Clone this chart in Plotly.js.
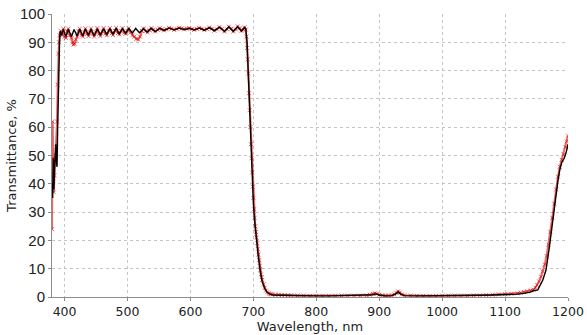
<!DOCTYPE html>
<html>
<head>
<meta charset="utf-8">
<script src="https://cdn.plot.ly/plotly-3.0.1.min.js"></script>
<style>html,body{margin:0;padding:0;background:#fff;}#chart{width:587px;height:335px;}</style>
</head>
<body>
<div id="chart"></div>
<script>
// Measured spectrum (black line)
const measWl = [380,381,382,383,384,385,386,387,388,389,390,391,392,393,395,398,402,406,411,415,420,424,429,433,438,442,447,452,457,462,467,472,477,482,487,492,497,502,508,513,519,525,531,537,544,551,558,566,574,582,590,598,606,614,622,630,638,646,654,661,668,675,681,686,688,690,692,694,696,698,700,702,705,708,711,714,718,722,726,732,745,760,780,800,820,840,860,880,890,895,900,910,920,926,930,934,940,960,980,1000,1020,1040,1060,1080,1100,1120,1130,1140,1145,1152,1160,1165,1170,1175,1178,1181,1184,1187,1190,1194,1197,1200];
const measT = [40,35,49,38,45,50,54,48,46,60,75,85,90,94,92.5,94.5,92,94.5,92,94.5,92.2,94.6,92.3,94.7,92.5,94.6,92.3,94.7,92.6,94.8,92.8,94.8,92.9,94.9,93.0,94.8,93.2,94.8,93.3,94.9,93.4,94.8,93.6,94.9,93.8,94.9,94.2,95.0,94.4,95.0,94.5,94.9,94.4,95.0,94.3,95.1,94.1,95.3,93.9,95.4,93.9,95.5,94.0,95.3,94.8,90,78,65,52,41,33,27,20,14,9,5.5,3,1.6,1.0,0.7,0.6,0.5,0.4,0.4,0.4,0.5,0.5,0.5,0.8,1.1,0.7,0.4,0.5,1.0,1.7,1.0,0.5,0.4,0.4,0.5,0.5,0.5,0.6,0.7,0.8,1.0,1.3,1.7,2.2,2.5,6,9.5,17,26,32,37,41,45,47.5,49,51,54];

// Calculated spectrum (red crosses)
const calcWl = [380,381,382,383,384,385,386,387,388,389,390,391,392,394,396,398,400,402,404,406,408,411,413,414,416,418,420,422,424,427,429,431,433,436,438,440,442,445,447,450,452,455,457,460,462,465,467,470,472,475,477,480,482,485,487,490,492,495,497,500,502,505,508,511,514,517,520,523,526,529,532,535,538,541,544,548,551,555,558,562,566,570,574,578,582,586,590,594,598,602,606,610,614,618,622,626,630,634,638,642,646,650,654,658,661,665,668,672,675,678,681,684,686,688,689,690,691,692,693,694,695,696,697,698,699,700,701,702,703,704,705,706,707,708,709,710,711,712,713,714,716,718,720,722,724,726,728,730,735,740,745,750,755,760,770,780,790,800,810,820,830,840,850,860,870,880,885,890,893,896,900,905,910,915,920,924,927,930,933,936,940,950,960,970,980,990,1000,1010,1020,1030,1040,1050,1060,1070,1080,1090,1100,1110,1120,1125,1130,1135,1140,1145,1148,1151,1154,1157,1160,1163,1166,1169,1172,1175,1178,1181,1184,1187,1190,1193,1196,1198,1200];
const calcT = [24,62,49,37,43,48,50,53,62,75,86,90,92.5,94,92.5,94.8,92,91.5,94,94.8,92.5,91.5,90,89.2,89.5,91,92,94,94.8,92.5,92,93.5,94.9,93,92.2,93.5,94.9,93,92,93.5,95,93,92.2,93.8,95,93,92.5,94,95,93.2,92.6,94,95.1,93.3,92.8,94,95,93.4,93,94,95,93.5,92.5,92,91.2,91,92,94,94.9,94,93.5,94.2,95,94.5,93.8,94.4,95,94.6,94.2,94.6,95.1,94.8,94.4,94.7,95.1,94.9,94.6,94.8,95,94.7,94.4,94.7,95.1,94.8,94.3,94.7,95.2,94.8,94.1,94.6,95.4,94.8,93.8,94.6,95.5,94.8,93.8,94.6,95.6,95,94,94.5,95.3,94.5,92,88,84,79,72,66,60,54,49,44,39,35,31,28,25,23,21,19,17,15,13,11,9.5,8,7,6,4.5,3.2,2.3,1.7,1.3,1.1,1.0,0.9,0.8,0.8,0.7,0.7,0.6,0.6,0.5,0.5,0.4,0.4,0.4,0.4,0.5,0.5,0.5,0.5,0.5,0.6,0.8,1.1,1.3,1.1,0.8,0.6,0.5,0.5,0.6,0.9,1.5,2.0,1.6,0.9,0.6,0.5,0.4,0.4,0.4,0.4,0.5,0.5,0.5,0.5,0.5,0.6,0.6,0.7,0.8,0.9,1.0,1.1,1.3,1.5,1.8,2.0,2.3,2.6,3.3,4.2,5.5,7.2,9,11.5,14.5,18.5,23,28,33,38,42.5,46,48.5,50.5,53,55,57];

const xTitle = "Wavelength, nm";
const yTitle = "Transmittance, %";

const traces = [
  {
    x: calcWl, y: calcT, type: "scatter", mode: "lines+markers",
    line: {color: "rgba(225,0,0,0.6)", width: 2},
    marker: {symbol: "x-thin-open", size: 4, line: {color: "rgba(240,40,40,0.5)", width: 1}},
    hoverinfo: "skip", showlegend: false
  },
  {
    x: measWl, y: measT, type: "scatter", mode: "lines",
    line: {color: "#000", width: 1.4},
    hoverinfo: "skip", showlegend: false
  }
];

const layout = {
  width: 587, height: 335,
  margin: {l: 52, r: 19, t: 14, b: 38},
  paper_bgcolor: "#fff", plot_bgcolor: "#fff",
  showlegend: false,
  xaxis: {
    range: [380, 1200], tick0: 0, dtick: 100, autorange: false,
    showline: true, linecolor: "#8c8c8c", linewidth: 1,
    ticks: "outside", ticklen: 3, tickcolor: "#8c8c8c",
    showgrid: true, gridcolor: "#c4c4c4", griddash: "dot", gridwidth: 1,
    zeroline: false,
    tickfont: {family: "DejaVu Sans", size: 12.5, color: "#222"},
    title: {text: xTitle, font: {family: "DejaVu Sans", size: 13, color: "#222"}, standoff: 1}
  },
  yaxis: {
    range: [0, 100], dtick: 10, autorange: false,
    showline: true, linecolor: "#8c8c8c", linewidth: 1,
    ticks: "outside", ticklen: 3, tickcolor: "#8c8c8c",
    showgrid: true, gridcolor: "#c4c4c4", griddash: "dot", gridwidth: 1,
    zeroline: false,
    tickfont: {family: "Liberation Sans", size: 15, color: "#222"},
    title: {text: yTitle, font: {family: "DejaVu Sans", size: 13, color: "#222"}, standoff: 0}
  }
};

Plotly.newPlot("chart", traces, layout, {displayModeBar: false, staticPlot: true});
</script>
</body>
</html>
